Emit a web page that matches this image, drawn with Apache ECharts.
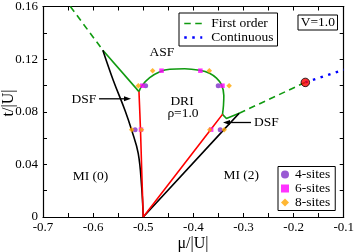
<!DOCTYPE html>
<html>
<head>
<meta charset="utf-8">
<script src="https://cdn.jsdelivr.net/npm/echarts@6/dist/echarts.min.js"></script>
<style>
html,body{margin:0;padding:0;background:#fff;}
#chart{width:357px;height:252px;}
</style>
</head>
<body>
<div id="chart"></div>
<script>
// ---- data ----
const xTickValues = [-0.7, -0.6, -0.5, -0.4, -0.3, -0.2, -0.1];
const yTickValues = [0, 0.04, 0.08, 0.12, 0.16];

const firstOrderLeft = [[-0.6454, 0.16], [-0.5806, 0.1268]];
const greenUpperLeft = [[-0.5806, 0.1268], [-0.5085, 0.0953]];
const greenDome = [[-0.5085, 0.0953], [-0.5026, 0.0998], [-0.4871, 0.1059], [-0.4669, 0.1104],
  [-0.447, 0.1123], [-0.4173, 0.1127], [-0.3875, 0.1115], [-0.3677, 0.1093], [-0.3538, 0.1055],
  [-0.3439, 0.1006], [-0.3392, 0.0923], [-0.3399, 0.0848], [-0.3419, 0.078]];
const greenRightCusp = [[-0.3419, 0.078], [-0.334, 0.0749], [-0.3085, 0.0789]];
const firstOrderRight = [[-0.3085, 0.0789], [-0.1766, 0.1023]];
const continuousLine = [[-0.1766, 0.1023], [-0.1, 0.1119]];
const criticalPoint = [[-0.1766, 0.1023]];

const blackLeft = [[-0.5806, 0.1268], [-0.5595, 0.1036], [-0.5363, 0.081], [-0.523, 0.0659],
  [-0.51, 0.0483], [-0.5032, 0.0231], [-0.5, 0]];
const redLeft = [[-0.5085, 0.0953], [-0.5055, 0.0664], [-0.503, 0.035], [-0.5, 0]];
const redRight = [[-0.5, 0], [-0.3656, 0.0664], [-0.3419, 0.078]];
const blackRight = [[-0.5, 0], [-0.339, 0.0664], [-0.3085, 0.0789]];

const sites4 = [[-0.4952, 0.0998], [-0.3504, 0.0998], [-0.5162, 0.0664], [-0.3464, 0.0664]];
const sites6 = [[-0.502, 0.0998], [-0.4635, 0.1112], [-0.386, 0.1112], [-0.3419, 0.0998],
  [-0.5045, 0.0664], [-0.3645, 0.0664]];
const sites8 = [[-0.5098, 0.0998], [-0.4813, 0.1112], [-0.3682, 0.1112], [-0.3286, 0.0998],
  [-0.523, 0.0664], [-0.5035, 0.0664], [-0.3672, 0.0664], [-0.3385, 0.0664]];

// ---- styles ----
const SERIF = '"Liberation Serif", "DejaVu Serif", serif';
const GREEN = '#0f9a0f';
const DASH = [6.5, 4.5];
const DOTS = [2.5, 5.5];
const chart = echarts.init(document.getElementById('chart'), null, {renderer: 'canvas'});

const axisCommon = {
  type: 'value',
  axisLine: {show: true, onZero: false, lineStyle: {color: '#000', width: 1.2}},
  axisTick: {show: true, inside: true, length: 4, lineStyle: {color: '#000', width: 1}},
  minorTick: {show: true, splitNumber: 2, length: 4, lineStyle: {color: '#000', width: 1}},
  splitLine: {show: false},
  minorSplitLine: {show: false}
};

function lineSeries(name, data, color, type, width, smooth) {
  return {
    name: name, type: 'line', data: data, symbol: 'none', showSymbol: false, smooth: smooth || false,
    lineStyle: {color: color, width: width, type: type}, itemStyle: {color: color},
    clip: true, animation: false, z: 2
  };
}

const option = {
  animation: false,
  backgroundColor: '#fff',
  grid: {left: 43, right: 12, top: 5, bottom: 35, containLabel: false},
  xAxis: [
    Object.assign({}, axisCommon, {
      position: 'bottom', min: -0.7, max: -0.1, interval: 0.1,
      axisLabel: {show: true, margin: 4, color: '#000', fontFamily: SERIF, fontSize: 13,
        formatter: v => (xTickValues.some(t => Math.abs(t - v) < 1e-9) ? v.toFixed(1) : '')}
    }),
    Object.assign({}, axisCommon, {
      position: 'top', min: -0.7, max: -0.1, interval: 0.1, axisLabel: {show: false}
    })
  ],
  yAxis: [
    Object.assign({}, axisCommon, {
      position: 'left', min: 0, max: 0.16, interval: 0.04,
      axisLabel: {show: true, margin: 5, color: '#000', fontFamily: SERIF, fontSize: 13,
        formatter: v => (Math.abs(v) < 1e-9 ? '0' : v.toFixed(2))}
    }),
    Object.assign({}, axisCommon, {
      position: 'right', min: 0, max: 0.16, interval: 0.04, axisLabel: {show: false}
    })
  ],
  legend: [
    {
      data: [
        {name: 'First order', itemStyle: {opacity: 0}, lineStyle: {color: GREEN, width: 1.6, type: DASH}},
        {name: 'Continuous', itemStyle: {opacity: 0}, lineStyle: {color: '#0000ff', width: 2.5, type: DOTS}}
      ],
      orient: 'vertical', left: 179, top: 13,
      itemWidth: 18, itemHeight: 10, itemGap: 0, padding: [3.5, 4, 1.5, 4],
      borderColor: '#000', borderWidth: 1, borderRadius: 0, selectedMode: false,
      textStyle: {fontFamily: SERIF, fontSize: 13.5, color: '#000', lineHeight: 11.6, padding: [0, 0, 0, 4]}
    },
    {
      data: ['4-sites', '6-sites', '8-sites'], orient: 'vertical', left: 278, top: 166.5,
      itemWidth: 8, itemHeight: 8, itemGap: 0, padding: [1, 5, 1, 3],
      borderColor: '#000', borderWidth: 1, borderRadius: 0, selectedMode: false,
      textStyle: {fontFamily: SERIF, fontSize: 13.5, color: '#000', lineHeight: 13.3, padding: [0, 0, 0, 1]}
    }
  ],
  series: [
    lineSeries('First order', firstOrderLeft, GREEN, DASH, 1.6),
    lineSeries('First order', firstOrderRight, GREEN, DASH, 1.6),
    lineSeries('Continuous', continuousLine, '#0000ff', DOTS, 2.5),
    lineSeries('green-a', greenUpperLeft, GREEN, 'solid', 1.6),
    lineSeries('green-b', greenDome, GREEN, 'solid', 1.6, 0.4),
    lineSeries('green-c', greenRightCusp, GREEN, 'solid', 1.6),
    lineSeries('black-left', blackLeft, '#000', 'solid', 1.6, 0.4),
    lineSeries('black-right', blackRight, '#000', 'solid', 1.6),
    lineSeries('red-left', redLeft, '#ff0000', 'solid', 1.6, 0.3),
    lineSeries('red-right', redRight, '#ff0000', 'solid', 1.6),
    {
      name: 'critical', type: 'scatter', data: criticalPoint, symbol: 'circle', symbolSize: 8.5,
      itemStyle: {color: '#ff0000', borderColor: '#000', borderWidth: 1}, z: 5, animation: false
    },
    {
      name: '4-sites', type: 'scatter', data: sites4, symbol: 'circle', symbolSize: 5,
      itemStyle: {color: '#7f2fc8'}, z: 3, animation: false
    },
    {
      name: '6-sites', type: 'scatter', data: sites6, symbol: 'rect', symbolSize: 4.5,
      itemStyle: {color: '#ff00ff'}, z: 4, animation: false
    },
    {
      name: '8-sites', type: 'scatter', data: sites8, symbol: 'diamond', symbolSize: 5.5,
      itemStyle: {color: '#ffa500'}, z: 4, animation: false
    }
  ],
  graphic: [
    {type: 'text', style: {text: 'ASF', x: 162, y: 52, fontFamily: SERIF, fontSize: 13.5, fill: '#000', textAlign: 'center', textVerticalAlign: 'middle'}},
    {type: 'text', style: {text: 'DSF', x: 84, y: 99, fontFamily: SERIF, fontSize: 13.5, fill: '#000', textAlign: 'center', textVerticalAlign: 'middle'}},
    {type: 'line', shape: {x1: 99, y1: 98.8, x2: 126, y2: 98.8}, style: {stroke: '#000', lineWidth: 1.3}},
    {type: 'polygon', shape: {points: [[131, 98.8], [124, 96.3], [124, 101.3]]}, style: {fill: '#000'}},
    {type: 'text', style: {text: 'DSF', x: 266.5, y: 122.5, fontFamily: SERIF, fontSize: 13.5, fill: '#000', textAlign: 'center', textVerticalAlign: 'middle'}},
    {type: 'line', shape: {x1: 251, y1: 122.5, x2: 228, y2: 122.5}, style: {stroke: '#000', lineWidth: 1.3}},
    {type: 'polygon', shape: {points: [[223, 122.5], [230, 120], [230, 125]]}, style: {fill: '#000'}},
    {type: 'text', style: {text: 'DRI', x: 182, y: 101, fontFamily: SERIF, fontSize: 13.5, fill: '#000', textAlign: 'center', textVerticalAlign: 'middle'}},
    {type: 'text', style: {text: 'ρ=1.0', x: 183, y: 113.5, fontFamily: SERIF, fontSize: 13.5, fill: '#000', textAlign: 'center', textVerticalAlign: 'middle'}},
    {type: 'text', style: {text: 'MI (0)', x: 90.5, y: 176.7, fontFamily: SERIF, fontSize: 13.5, fill: '#000', textAlign: 'center', textVerticalAlign: 'middle'}},
    {type: 'text', style: {text: 'MI (2)', x: 241.3, y: 175, fontFamily: SERIF, fontSize: 13.5, fill: '#000', textAlign: 'center', textVerticalAlign: 'middle'}},
    {type: 'rect', shape: {x: 298, y: 15, width: 39.5, height: 15}, style: {fill: '#fff', stroke: '#000', lineWidth: 1}},
    {type: 'text', style: {text: 'V=1.0', x: 317.8, y: 22.8, fontFamily: SERIF, fontSize: 13.5, fill: '#000', textAlign: 'center', textVerticalAlign: 'middle'}},
    {type: 'text', style: {text: 'μ/|U|', x: 193, y: 244, fontFamily: SERIF, fontSize: 16, fill: '#000', textAlign: 'center', textVerticalAlign: 'middle'}},
    {type: 'text', rotation: Math.PI / 2, x: 8.5, y: 103, style: {text: 't/|U|', x: 0, y: 0, fontFamily: SERIF, fontSize: 16, fill: '#000', textAlign: 'center', textVerticalAlign: 'middle'}}
  ]
};
chart.setOption(option);
</script>
</body>
</html>
